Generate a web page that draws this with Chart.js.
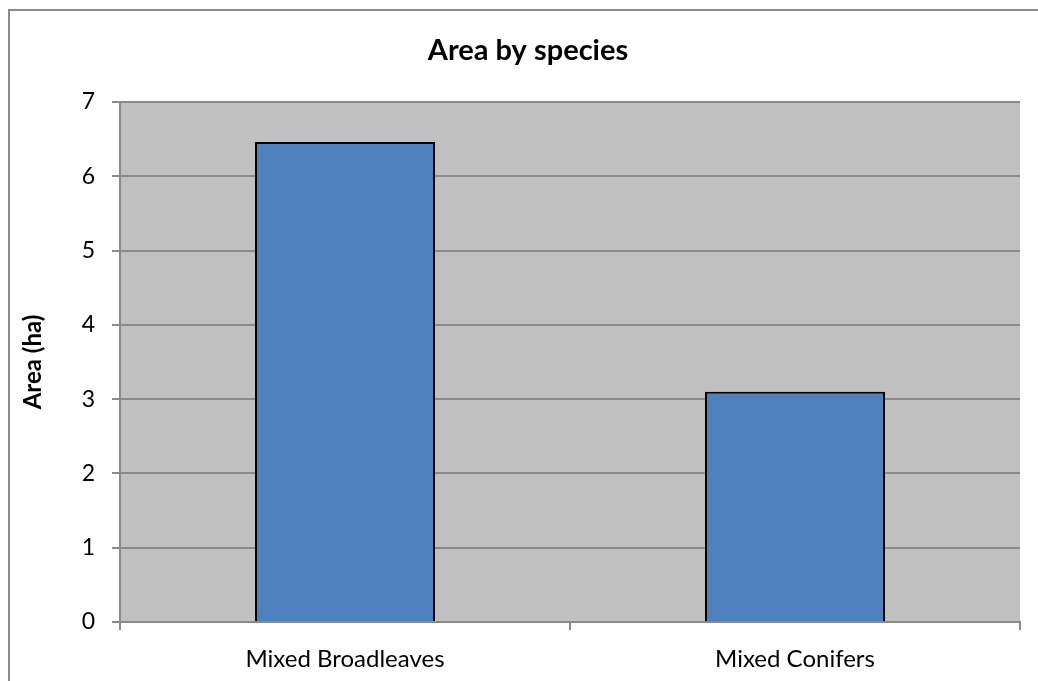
<!DOCTYPE html>
<html>
<head>
<meta charset="utf-8">
<script src="https://cdn.jsdelivr.net/npm/chart.js@4"></script>
<style>
  body { margin: 0; background: #fff; overflow: hidden; }
  #frame { position: absolute; left: 8px; top: 9px; width: 1200px; height: 800px; border: 2px solid #8a8a8a; box-sizing: border-box; }
  #wrap { position: absolute; left: 0; top: 0; width: 1038px; height: 681px; }
</style>
</head>
<body>
<div id="frame"></div>
<div id="wrap"><canvas id="areaChart" width="1038" height="681"></canvas></div>
<script>
const categories = ['Mixed Broadleaves', 'Mixed Conifers'];
const areaHa = [6.46, 3.1];
const chartTitle = 'Area by species';
const yTitle = 'Area (ha)';

const FONT = 'Lato, "Liberation Sans", sans-serif';

// grey plot background + title text
const plotBg = {
  id: 'plotBg',
  beforeDraw(chart) {
    const { ctx, chartArea: a } = chart;
    ctx.save();
    ctx.fillStyle = '#c0c0c0';
    ctx.fillRect(a.left, a.top, a.right - a.left, a.bottom - a.top);
    ctx.restore();
  },
  afterDraw(chart) {
    const ctx = chart.ctx;
    ctx.save();
    ctx.font = 'bold 29px ' + FONT;
    ctx.fillStyle = '#000';
    ctx.textAlign = 'center';
    ctx.textBaseline = 'alphabetic';
    ctx.fillText(chartTitle, 528, 60);
    ctx.restore();
  }
};

const ctx = document.getElementById('areaChart').getContext('2d');
new Chart(ctx, {
  type: 'bar',
  data: {
    labels: categories,
    datasets: [{
      label: 'Area',
      data: areaHa,
      backgroundColor: '#4f81bd',
      borderColor: '#000',
      borderWidth: 2,
      barPercentage: 0.4,
      categoryPercentage: 1
    }]
  },
  options: {
    responsive: false,
    animation: false,
    layout: { padding: { top: 102, right: 18, bottom: 0, left: 0 } },
    plugins: {
      legend: { display: false },
      title: { display: false },
      tooltip: { enabled: false }
    },
    scales: {
      x: {
        offset: true,
        grid: { offset: true, drawOnChartArea: false, drawTicks: true, tickLength: 8, color: '#8a8a8a', lineWidth: 2 },
        border: { color: '#8a8a8a', width: 2 },
        ticks: { color: '#000', font: { family: FONT, size: 24 }, padding: 15, maxRotation: 0 },
        afterFit(s) { s.height = 59; }
      },
      y: {
        min: 0,
        max: 7,
        ticks: { stepSize: 1, color: '#000', font: { family: FONT, size: 23 }, padding: 17 },
        grid: { color: '#8a8a8a', lineWidth: 2, tickLength: 8 },
        border: { color: '#8a8a8a', width: 2 },
        title: { display: true, text: yTitle, color: '#000', font: { family: FONT, size: 24, weight: 'bold' }, padding: { top: 19 } },
        afterFit(s) { s.width = 120; }
      }
    }
  },
  plugins: [plotBg]
});
</script>
</body>
</html>
